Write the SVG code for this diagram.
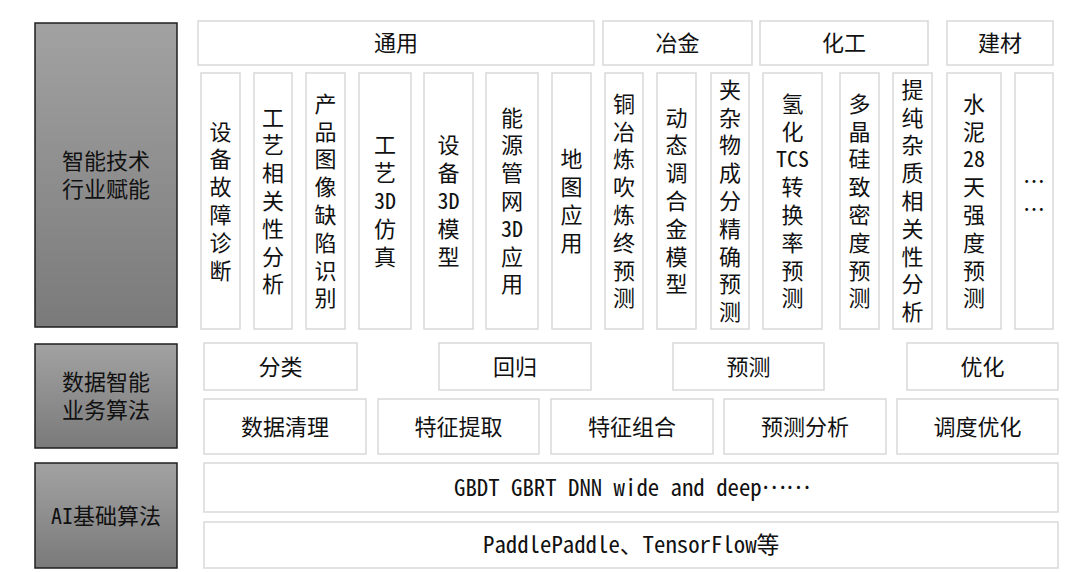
<svg xmlns="http://www.w3.org/2000/svg" width="1080" height="572" viewBox="0 0 1080 572">
<defs>
<linearGradient id="pg" x1="0" y1="0" x2="0" y2="1">
<stop offset="0" stop-color="#a2a2a2"/>
<stop offset="1" stop-color="#7a7a7a"/>
</linearGradient>
<style>
.box{fill:#fff;stroke:#d9d9d9;stroke-width:1.5}
.panel{fill:url(#pg);stroke:#1f1f1f;stroke-width:1.5}
.t{font-family:"Noto Sans CJK SC","Noto Sans",sans-serif;font-size:22px;fill:#111;text-anchor:middle}
.mono{font-family:"Noto Sans Mono CJK SC","Noto Sans CJK SC",monospace;font-size:22.8px;fill:#111}
.lat{font-family:"Noto Sans Mono CJK SC","Liberation Mono",monospace}
.ell{font-family:"Noto Sans CJK SC",sans-serif}
</style>
</defs>
<rect width="1080" height="572" fill="#fff"/>

<g id="panel-industry"><rect class="panel" x="35" y="23" width="142" height="304"/>
<text class="t"><tspan x="106" y="169">智能技术</tspan><tspan x="106" y="196.5">行业赋能</tspan></text></g>
<g id="panel-business"><rect class="panel" x="35" y="344" width="142" height="104"/>
<text class="t"><tspan x="106" y="390">数据智能</tspan><tspan x="106" y="417.5">业务算法</tspan></text></g>
<g id="panel-ai"><rect class="panel" x="35" y="463" width="142" height="105"/>
<text class="t" x="106" y="524"><tspan class="lat">AI</tspan>基础算法</text></g>

<g id="cat-general"><rect class="box" x="198" y="21" width="396" height="44"/><text class="t" x="396" y="51">通用</text></g>
<g id="cat-metallurgy"><rect class="box" x="603" y="21" width="149" height="44"/><text class="t" x="677.5" y="51">冶金</text></g>
<g id="cat-chemical"><rect class="box" x="760" y="21" width="168" height="44"/><text class="t" x="844" y="51">化工</text></g>
<g id="cat-building"><rect class="box" x="947" y="21" width="106" height="44"/><text class="t" x="1000" y="51">建材</text></g>

<g id="app1"><rect class="box" x="201" y="73" width="39" height="256"/>
<text class="t"><tspan x="220.5" y="139.5">设</tspan><tspan x="220.5" dy="27.8">备</tspan><tspan x="220.5" dy="27.8">故</tspan><tspan x="220.5" dy="27.8">障</tspan><tspan x="220.5" dy="27.8">诊</tspan><tspan x="220.5" dy="27.8">断</tspan></text></g>
<g id="app2"><rect class="box" x="254" y="73" width="38" height="256"/>
<text class="t"><tspan x="273" y="125.6">工</tspan><tspan x="273" dy="27.8">艺</tspan><tspan x="273" dy="27.8">相</tspan><tspan x="273" dy="27.8">关</tspan><tspan x="273" dy="27.8">性</tspan><tspan x="273" dy="27.8">分</tspan><tspan x="273" dy="27.8">析</tspan></text></g>
<g id="app3"><rect class="box" x="306" y="73" width="39" height="256"/>
<text class="t"><tspan x="325.5" y="111.7">产</tspan><tspan x="325.5" dy="27.8">品</tspan><tspan x="325.5" dy="27.8">图</tspan><tspan x="325.5" dy="27.8">像</tspan><tspan x="325.5" dy="27.8">缺</tspan><tspan x="325.5" dy="27.8">陷</tspan><tspan x="325.5" dy="27.8">识</tspan><tspan x="325.5" dy="27.8">别</tspan></text></g>
<g id="app4"><rect class="box" x="359" y="73" width="52" height="256"/>
<text class="t"><tspan x="385" y="153.4">工</tspan><tspan x="385" dy="27.8">艺</tspan><tspan class="lat" x="385" dy="27.8">3D</tspan><tspan x="385" dy="27.8">仿</tspan><tspan x="385" dy="27.8">真</tspan></text></g>
<g id="app5"><rect class="box" x="424" y="73" width="49" height="256"/>
<text class="t"><tspan x="448.5" y="153.4">设</tspan><tspan x="448.5" dy="27.8">备</tspan><tspan class="lat" x="448.5" dy="27.8">3D</tspan><tspan x="448.5" dy="27.8">模</tspan><tspan x="448.5" dy="27.8">型</tspan></text></g>
<g id="app6"><rect class="box" x="486" y="73" width="52" height="256"/>
<text class="t"><tspan x="512" y="125.6">能</tspan><tspan x="512" dy="27.8">源</tspan><tspan x="512" dy="27.8">管</tspan><tspan x="512" dy="27.8">网</tspan><tspan class="lat" x="512" dy="27.8">3D</tspan><tspan x="512" dy="27.8">应</tspan><tspan x="512" dy="27.8">用</tspan></text></g>
<g id="app7"><rect class="box" x="552" y="73" width="39" height="256"/>
<text class="t"><tspan x="571.5" y="167.3">地</tspan><tspan x="571.5" dy="27.8">图</tspan><tspan x="571.5" dy="27.8">应</tspan><tspan x="571.5" dy="27.8">用</tspan></text></g>
<g id="app8"><rect class="box" x="605" y="73" width="38" height="256"/>
<text class="t"><tspan x="624" y="111.7">铜</tspan><tspan x="624" dy="27.8">冶</tspan><tspan x="624" dy="27.8">炼</tspan><tspan x="624" dy="27.8">吹</tspan><tspan x="624" dy="27.8">炼</tspan><tspan x="624" dy="27.8">终</tspan><tspan x="624" dy="27.8">预</tspan><tspan x="624" dy="27.8">测</tspan></text></g>
<g id="app9"><rect class="box" x="657" y="73" width="39" height="256"/>
<text class="t"><tspan x="676.5" y="125.6">动</tspan><tspan x="676.5" dy="27.8">态</tspan><tspan x="676.5" dy="27.8">调</tspan><tspan x="676.5" dy="27.8">合</tspan><tspan x="676.5" dy="27.8">金</tspan><tspan x="676.5" dy="27.8">模</tspan><tspan x="676.5" dy="27.8">型</tspan></text></g>
<g id="app10"><rect class="box" x="711" y="73" width="38" height="256"/>
<text class="t"><tspan x="730" y="97.8">夹</tspan><tspan x="730" dy="27.8">杂</tspan><tspan x="730" dy="27.8">物</tspan><tspan x="730" dy="27.8">成</tspan><tspan x="730" dy="27.8">分</tspan><tspan x="730" dy="27.8">精</tspan><tspan x="730" dy="27.8">确</tspan><tspan x="730" dy="27.8">预</tspan><tspan x="730" dy="27.8">测</tspan></text></g>
<g id="app11"><rect class="box" x="763" y="73" width="59" height="256"/>
<text class="t"><tspan x="792.5" y="111.7">氢</tspan><tspan x="792.5" dy="27.8">化</tspan><tspan class="lat" x="792.5" dy="27.8">TCS</tspan><tspan x="792.5" dy="27.8">转</tspan><tspan x="792.5" dy="27.8">换</tspan><tspan x="792.5" dy="27.8">率</tspan><tspan x="792.5" dy="27.8">预</tspan><tspan x="792.5" dy="27.8">测</tspan></text></g>
<g id="app12"><rect class="box" x="840" y="73" width="39" height="256"/>
<text class="t"><tspan x="859.5" y="111.7">多</tspan><tspan x="859.5" dy="27.8">晶</tspan><tspan x="859.5" dy="27.8">硅</tspan><tspan x="859.5" dy="27.8">致</tspan><tspan x="859.5" dy="27.8">密</tspan><tspan x="859.5" dy="27.8">度</tspan><tspan x="859.5" dy="27.8">预</tspan><tspan x="859.5" dy="27.8">测</tspan></text></g>
<g id="app13"><rect class="box" x="893" y="73" width="39" height="256"/>
<text class="t"><tspan x="912.5" y="97.8">提</tspan><tspan x="912.5" dy="27.8">纯</tspan><tspan x="912.5" dy="27.8">杂</tspan><tspan x="912.5" dy="27.8">质</tspan><tspan x="912.5" dy="27.8">相</tspan><tspan x="912.5" dy="27.8">关</tspan><tspan x="912.5" dy="27.8">性</tspan><tspan x="912.5" dy="27.8">分</tspan><tspan x="912.5" dy="27.8">析</tspan></text></g>
<g id="app14"><rect class="box" x="947" y="73" width="54" height="256"/>
<text class="t"><tspan x="974" y="111.7">水</tspan><tspan x="974" dy="27.8">泥</tspan><tspan class="lat" x="974" dy="27.8">28</tspan><tspan x="974" dy="27.8">天</tspan><tspan x="974" dy="27.8">强</tspan><tspan x="974" dy="27.8">度</tspan><tspan x="974" dy="27.8">预</tspan><tspan x="974" dy="27.8">测</tspan></text></g>
<g id="app15"><rect class="box" x="1015" y="73" width="38" height="256"/>
<text class="t"><tspan x="1034" y="189">…</tspan><tspan x="1034" dy="27.8">…</tspan></text></g>

<g id="task-classify"><rect class="box" x="204" y="343" width="153" height="47"/><text class="t" x="280.5" y="374.5">分类</text></g>
<g id="task-regress"><rect class="box" x="439" y="343" width="152" height="47"/><text class="t" x="515" y="374.5">回归</text></g>
<g id="task-predict"><rect class="box" x="673" y="343" width="151" height="47"/><text class="t" x="748.5" y="374.5">预测</text></g>
<g id="task-optimize"><rect class="box" x="907" y="343" width="151" height="47"/><text class="t" x="982.5" y="374.5">优化</text></g>

<g id="step-clean"><rect class="box" x="204" y="399" width="162" height="55"/><text class="t" x="285" y="434.5">数据清理</text></g>
<g id="step-extract"><rect class="box" x="378" y="399" width="161" height="55"/><text class="t" x="458.5" y="434.5">特征提取</text></g>
<g id="step-combine"><rect class="box" x="551" y="399" width="162" height="55"/><text class="t" x="632" y="434.5">特征组合</text></g>
<g id="step-analysis"><rect class="box" x="724" y="399" width="162" height="55"/><text class="t" x="805" y="434.5">预测分析</text></g>
<g id="step-schedule"><rect class="box" x="897" y="399" width="161" height="55"/><text class="t" x="977.5" y="434.5">调度优化</text></g>

<g id="algo-models"><rect class="box" x="204" y="463" width="854" height="49"/>
<text class="mono" x="454" y="496">GBDT GBRT DNN wide and deep<tspan class="ell" dy="-7">……</tspan></text></g>
<g id="algo-frameworks"><rect class="box" x="204" y="522" width="854" height="46"/>
<text class="mono" x="483" y="553">PaddlePaddle、TensorFlow等</text></g>
</svg>
